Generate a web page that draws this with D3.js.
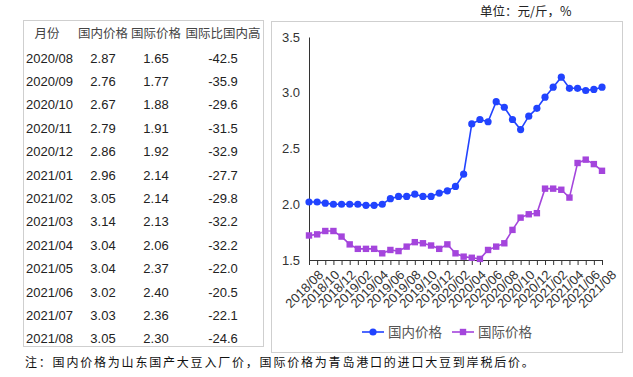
<!DOCTYPE html>
<html>
<head>
<meta charset="utf-8">
<script src="https://cdn.jsdelivr.net/npm/d3@7"></script>
<style>
  body { margin: 0; background: #fff; }
  svg { display: block; }
</style>
</head>
<body>
<svg id="main-svg" width="633" height="377"></svg>
<script>
// 表格数据
const tableMonths = ["2020/08", "2020/09", "2020/10", "2020/11", "2020/12", "2021/01", "2021/02",
  "2021/03", "2021/04", "2021/05", "2021/06", "2021/07", "2021/08"];
const tableDomestic = [2.87, 2.76, 2.67, 2.79, 2.86, 2.96, 3.05, 3.14, 3.04, 3.04, 3.02, 3.03, 3.05];
const tableIntl = [1.65, 1.77, 1.88, 1.91, 1.92, 2.14, 2.14, 2.13, 2.06, 2.37, 2.40, 2.36, 2.30];
const tableRatio = [-42.5, -35.9, -29.6, -31.5, -32.9, -27.7, -29.8, -32.2, -32.2, -22.0, -20.5, -22.1, -24.6];
const tableHeaders = ["月份", "国内价格", "国际价格", "国际比国内高"];

// 折线图数据 2018/08 - 2021/08
const months = d3.timeMonth.range(new Date(2018, 7, 1), new Date(2021, 8, 1)).map(d3.timeFormat("%Y/%m"));
const domestic = [2.02, 2.02, 2.01, 2.00, 2.00,
  2.00, 2.00, 1.99, 1.99, 2.00, 2.05, 2.07, 2.07, 2.09, 2.07, 2.07, 2.10,
  2.12, 2.16, 2.27, 2.72, 2.76, 2.74, 2.92, 2.87, 2.76, 2.67, 2.79, 2.86,
  2.96, 3.05, 3.14, 3.04, 3.04, 3.02, 3.03, 3.05];
const international = [1.72, 1.73, 1.76, 1.76, 1.71,
  1.64, 1.60, 1.60, 1.60, 1.56, 1.59, 1.58, 1.62, 1.66, 1.65, 1.63, 1.60,
  1.64, 1.56, 1.53, 1.52, 1.51, 1.59, 1.62, 1.65, 1.77, 1.88, 1.91, 1.92,
  2.14, 2.14, 2.13, 2.06, 2.37, 2.40, 2.36, 2.30];
const yTicks = [1.5, 2.0, 2.5, 3.0, 3.5];
const seriesNames = ["国内价格", "国际价格"];
const unitText = "单位：元/斤，%";
const noteText = "注：国内价格为山东国产大豆入厂价，国际价格为青岛港口的进口大豆到岸税后价。";

const svg = d3.select("#main-svg");
const latin = "'Liberation Sans', 'Noto Sans CJK SC', sans-serif";
const cjk = "'Noto Sans CJK SC', sans-serif";
const blue = "#2143ff";
const purple = "#a445dc";

// --- 表格 ---
svg.append("rect")
  .attr("x", 23.5).attr("y", 20.5).attr("width", 240).attr("height", 326)
  .attr("fill", "none").attr("stroke", "#cfcfcf");

const colX = [47, 103, 156, 223];
const headerY = 38;
const rowY = d3.scaleLinear().domain([0, 1]).range([62.5, 85.9]);

svg.append("g").selectAll("text")
  .data(tableHeaders)
  .join("text")
  .attr("x", (d, i) => colX[i])
  .attr("y", headerY)
  .attr("text-anchor", "middle")
  .style("font-family", cjk)
  .style("font-size", "12.5px")
  .style("fill", "#444")
  .text(d => d);

const rows = svg.append("g").selectAll("g")
  .data(tableMonths.map((m, i) => ({ m, a: tableDomestic[i], b: tableIntl[i], c: tableRatio[i], i })))
  .join("g")
  .attr("transform", d => `translate(0,${rowY(d.i)})`)
  .style("font-family", latin)
  .style("font-size", "13px")
  .style("fill", "#222");

rows.append("text").attr("x", 26).text(d => d.m);
rows.append("text").attr("x", colX[1]).attr("text-anchor", "middle").text(d => d.a.toFixed(2));
rows.append("text").attr("x", colX[2]).attr("text-anchor", "middle").text(d => d.b.toFixed(2));
rows.append("text").attr("x", colX[3]).attr("text-anchor", "middle").text(d => d.c.toFixed(1));

// --- 图表面板 ---
svg.append("rect")
  .attr("x", 271.5).attr("y", 21.5).attr("width", 351).attr("height", 331)
  .attr("fill", "none").attr("stroke", "#cfcfcf");

svg.append("text")
  .attr("x", 480).attr("y", 16)
  .style("font-family", cjk)
  .style("font-size", "12.5px")
  .style("fill", "#222")
  .text(unitText);

const x = d3.scalePoint().domain(months).range([309, 602]);
const y = d3.scaleLinear().domain([1.5, 3.5]).range([260, 37]);

// X 轴
const xAxis = svg.append("g")
  .attr("transform", `translate(0,${y(1.5)})`)
  .call(d3.axisBottom(x).tickSize(5).tickSizeOuter(0)
    .tickFormat((d, i) => i % 2 === 0 ? d : ""));
xAxis.select(".domain").attr("stroke", "#333");
xAxis.selectAll(".tick line").attr("stroke", "#333");
xAxis.selectAll(".tick text")
  .attr("text-anchor", "end")
  .attr("transform", "translate(9,10) rotate(-45)")
  .attr("dy", "0.6em")
  .attr("y", 0)
  .style("font-family", latin)
  .style("font-size", "13px")
  .style("fill", "#333");

// Y 轴
const yAxis = svg.append("g")
  .attr("transform", `translate(${x(months[0])},0)`)
  .call(d3.axisLeft(y).tickValues(yTicks).tickSize(0).tickPadding(9).tickFormat(d3.format(".1f")));
yAxis.select(".domain").attr("stroke", "#333");
yAxis.selectAll(".tick text")
  .style("font-family", latin)
  .style("font-size", "13px")
  .style("fill", "#333");

// 折线
const line = d3.line().x((d, i) => x(months[i])).y(d => y(d));

svg.append("path").datum(domestic)
  .attr("d", line).attr("fill", "none").attr("stroke", blue).attr("stroke-width", 1.6);
svg.append("path").datum(international)
  .attr("d", line).attr("fill", "none").attr("stroke", purple).attr("stroke-width", 1.6);

svg.append("g").selectAll("circle")
  .data(domestic)
  .join("circle")
  .attr("cx", (d, i) => x(months[i]))
  .attr("cy", d => y(d))
  .attr("r", 3.6)
  .attr("fill", blue);

svg.append("g").selectAll("rect")
  .data(international)
  .join("rect")
  .attr("x", (d, i) => x(months[i]) - 3.2)
  .attr("y", d => y(d) - 3.2)
  .attr("width", 6.4)
  .attr("height", 6.4)
  .attr("fill", purple);

// 图例
const legend = svg.append("g").attr("transform", "translate(0,332)");
const legendItems = [
  { name: seriesNames[0], color: blue, x: 362, shape: "circle" },
  { name: seriesNames[1], color: purple, x: 452, shape: "rect" }
];
legendItems.forEach(it => {
  legend.append("line")
    .attr("x1", it.x).attr("x2", it.x + 22)
    .attr("y1", 0).attr("y2", 0)
    .attr("stroke", it.color).attr("stroke-width", 1.6);
  if (it.shape === "circle") {
    legend.append("circle").attr("cx", it.x + 11).attr("cy", 0).attr("r", 3.6).attr("fill", it.color);
  } else {
    legend.append("rect").attr("x", it.x + 7.8).attr("y", -3.2).attr("width", 6.4).attr("height", 6.4).attr("fill", it.color);
  }
  legend.append("text")
    .attr("x", it.x + 26).attr("y", 0).attr("dy", "0.36em")
    .style("font-family", cjk)
    .style("font-size", "13.5px")
    .style("fill", "#555")
    .text(it.name);
});

// 注释
svg.append("text")
  .attr("x", 25).attr("y", 367)
  .style("font-family", cjk)
  .style("font-size", "12px")
  .style("letter-spacing", "1.8px")
  .style("fill", "#111")
  .text(noteText);
</script>
</body>
</html>
